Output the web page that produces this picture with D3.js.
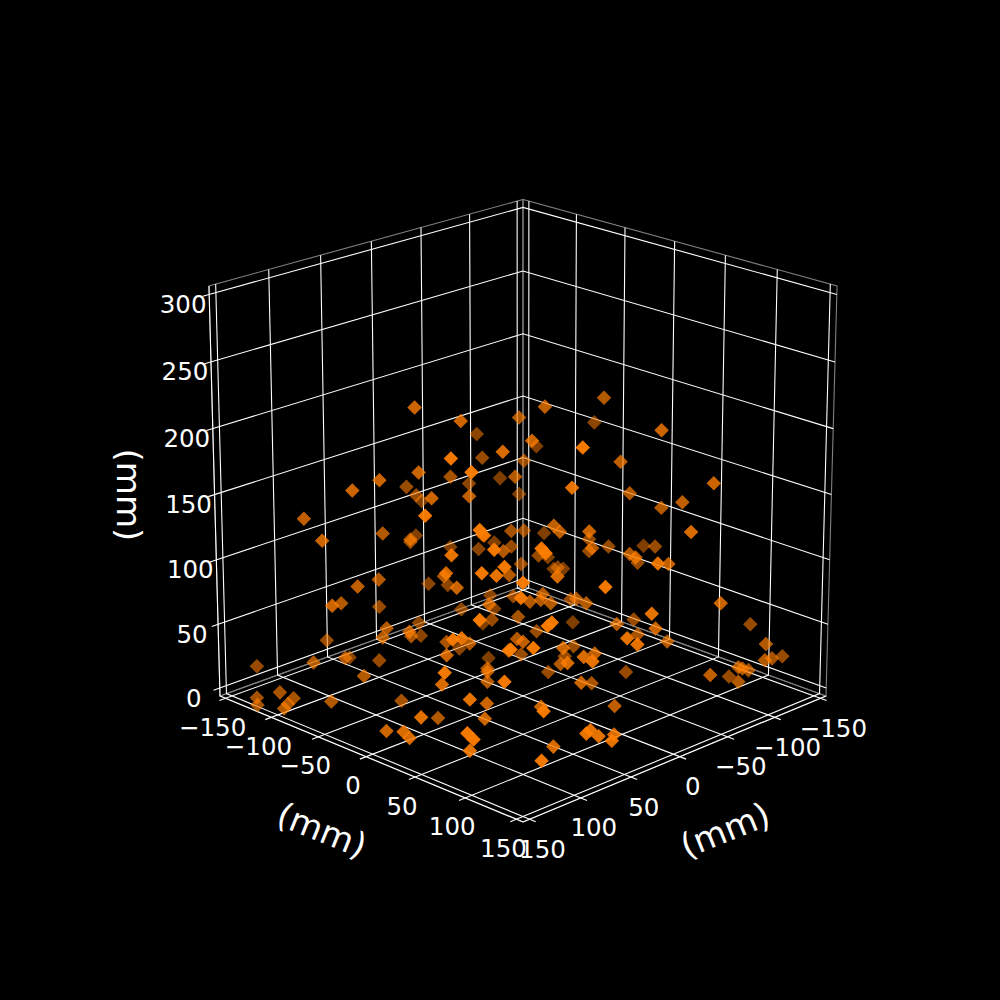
<!DOCTYPE html>
<html lang="en">
    <head>
        <meta charset="utf-8">
        <title>3D scatter</title>
        <script src="https://d3js.org/d3.v7.min.js"></script>
        <style type="text/css">
            html, body { margin: 0; padding: 0; background: #000; }
            text { font-family: "DejaVu Sans"; fill: #fff; }
        </style>
    </head>
    <body>
        <script type="text/javascript">

        // Data (mm)
        const xs = [73,52,-35,-9,112,53,-17,82,104,20,-22,-54,3,103,27,118,45,80,23,-9,-61,132,134,142,80,0,67,34,110,93,-4,-40,-2,-15,106,22,-17,-16,112,
            -56,-8,-98,-46,20,-79,46,-38,-37,42,-63,-52,-61,-66,-27,7,5,-67,-26,7,-58,-24,-56,-67,-117,-91,-42,-11,83,82,-29,-65,
            117,90,17,56,101,7,83,116,94,104,23,148,113,62,4,-13,54,-28,125,-19,6,29,94,98,99,68,30,95,137,120,71,71,51,141,121,55,12,99,-16,100,50,
            98,-19,-53,-71,47,-66,58,-79,13,-43,-9,101,17,9,11,7,-38,-7,-11,10,93,90,-66,-15,-23,-67,24,-9,40,-48,36,-46,30,43,115,104,-3,40,-31,-25,56,12,47,9,61,
            -47,-126,-96,-137,-112,-93,-77,-79,-98,-45,-106,-75,-54,-14,37,-16,123,8,61,109,76,73,70,45,64,77,118,
            135,114,145,154,158,139,157,158,135,84,151,122,51,52,127,87,91,84,150,142,149,147,150,148,136];
        const ys = [-35,-10,-83,-13,42,33,-59,-22,54,-54,-78,-78,-5,-40,-93,-52,-9,-11,-87,-115,-65,-88,39,-58,-62,-112,-47,-82,68,55,-46,-70,-14,-61,78,2,-29,-92,42,
            26,14,-24,92,29,-65,104,-37,61,90,127,56,99,74,139,38,42,-45,-25,73,10,46,12,21,9,45,66,101,101,104,-13,-39,
            -49,-56,-81,-24,25,-71,17,76,68,86,9,-42,-71,-86,-60,-47,20,-58,83,-61,-26,-79,-44,-44,-15,-46,-76,-107,-75,-60,-109,-77,-27,73,61,1,-54,23,-52,86,14,
            98,-21,-17,-29,81,-34,138,39,145,103,-19,99,24,29,29,35,11,47,53,5,117,118,-14,-1,72,47,150,123,142,69,148,100,24,43,103,114,-5,80,21,18,100,50,107,81,129,
            150,108,150,130,142,152,141,143,132,143,106,143,52,12,95,54,105,100,79,129,138,139,144,135,151,107,136,
            -139,-47,-103,-118,-113,-95,-81,-84,-59,-40,75,42,15,16,75,51,53,-2,50,6,31,35,96,100,84];
        const zs = [225,216,167,203,216,204,159,182,207,155,133,129,163,177,139,170,158,165,133,113,118,143,179,137,125,89,121,101,170,158,106,84,118,88,157,113,98,81,145,
            216,218,175,210,203,151,223,157,181,189,175,152,154,142,151,138,134,91,109,143,103,115,95,98,82,98,111,126,158,155,92,74,
            98,94,64,96,124,63,106,142,132,146,97,94,78,57,46,56,86,38,112,28,48,37,61,55,68,47,28,34,38,41,13,20,43,99,91,51,19,61,4,83,34,
            136,86,75,66,122,66,133,87,140,113,64,126,79,84,80,78,62,81,78,60,108,110,29,40,64,48,107,79,91,48,87,52,54,61,93,94,24,66,30,23,65,37,69,53,76,
            95,45,50,23,32,39,35,34,24,39,9,25,12,12,43,15,72,18,27,53,29,31,27,18,24,10,21,
            16,29,9,3,0,5,10,6,12,3,78,51,32,25,51,29,19,1,37,11,20,16,39,35,18];

        const xTicks = [-150,-100,-50,0,50,100,150];
        const yTicks = [-150,-100,-50,0,50,100,150];
        const zTicks = [0,50,100,150,200,250,300];

        // Constants
        const w = 1000;
        const h = 1000;
        const lim = 156.25;
        const zLo = -6.25;
        const zHi = 306.25;
        const half = 0.524;
        const dist = 10;
        const focal = 4162;
        const cx = 523;
        const cy = 494.6;
        const elev = 20 * Math.PI / 180;
        const sinE = Math.sin(elev);
        const cosE = Math.cos(elev);

        const xWorld = d3.scaleLinear().domain([-lim, lim]).range([-half, half]);
        const yWorld = d3.scaleLinear().domain([-lim, lim]).range([-half, half]);
        const zWorld = d3.scaleLinear().domain([zLo, zHi]).range([-half, half]);
        // depth shading, far marks fade
        const alphaScale = d3.scaleLinear().domain([-0.65, 0.5]).range([0.3, 1]).clamp(true);

        // camera at azim 45, elev 20
        function depth(x, y, z) {
            const b = (xWorld(x) + yWorld(y)) / Math.SQRT2;
            return cosE * b + sinE * zWorld(z);
        }
        function project(x, y, z) {
            const a = (yWorld(y) - xWorld(x)) / Math.SQRT2;
            const b = (xWorld(x) + yWorld(y)) / Math.SQRT2;
            const v = -sinE * b + cosE * zWorld(z);
            const k = focal / (dist - depth(x, y, z));
            return [cx + a * k, cy - v * k];
        }

        const svg = d3.select("body")
                      .append("svg")
                      .attr("width", w)
                      .attr("height", h)
                      .style("display", "block");

        const line3d = d3.line();
        function path3d(pts, color, width) {
            svg.append("path")
               .attr("d", line3d(pts.map(p => project(p[0], p[1], p[2]))))
               .attr("fill", "none")
               .attr("stroke", color)
               .attr("stroke-width", width);
        }

        // Panes
        const paneColor = "#808080";
        path3d([[-lim,-lim,zLo],[-lim,lim,zLo],[-lim,lim,zHi],[-lim,-lim,zHi],[-lim,-lim,zLo]], paneColor, 1.1);
        path3d([[-lim,-lim,zLo],[lim,-lim,zLo],[lim,-lim,zHi],[-lim,-lim,zHi],[-lim,-lim,zLo]], paneColor, 1.1);
        path3d([[-lim,-lim,zLo],[lim,-lim,zLo],[lim,lim,zLo],[-lim,lim,zLo],[-lim,-lim,zLo]], paneColor, 1.1);

        // Grid
        const tickOut = 6;
        xTicks.forEach(t => {
            path3d([[t,lim+tickOut,zLo],[t,-lim,zLo],[t,-lim,zHi]], "#fff", 1.1);
        });
        yTicks.forEach(t => {
            path3d([[lim+tickOut,t,zLo],[-lim,t,zLo],[-lim,t,zHi]], "#fff", 1.1);
        });
        zTicks.forEach(t => {
            path3d([[lim+tickOut,-lim,t],[-lim,-lim,t],[-lim,lim,t]], "#fff", 1.1);
        });

        // Axis lines
        path3d([[-lim,lim,zLo],[lim,lim,zLo]], "#fff", 1.1);
        path3d([[lim,-lim,zLo],[lim,lim,zLo]], "#fff", 1.1);
        path3d([[lim,-lim,zLo],[lim,-lim,zHi]], "#fff", 1.1);

        // Tick labels
        function tickLabels(ticks, pos, dx, dy) {
            ticks.forEach(t => {
                const p = pos(t);
                svg.append("text")
                   .attr("x", p[0] + dx)
                   .attr("y", p[1] + dy)
                   .attr("text-anchor", "middle")
                   .attr("dominant-baseline", "central")
                   .attr("font-size", "24.5px")
                   .text(String(t).replace("-", "\u2212"));
            });
        }
        tickLabels(xTicks, t => project(t, lim, zLo), 13, 30);
        tickLabels(yTicks, t => project(lim, t, zLo), -13, 29);
        tickLabels(zTicks, t => project(lim, -lim, t), -26, 10);

        // Axis labels
        function axisLabel(x, y, rot) {
            svg.append("text")
               .attr("transform", "translate(" + x + "," + y + ") rotate(" + rot + ")")
               .attr("text-anchor", "middle")
               .attr("dominant-baseline", "central")
               .attr("font-size", "34px")
               .text("(mm)");
        }
        axisLabel(322, 830, 22);
        axisLabel(725, 830, -22);
        axisLabel(129, 495, 90);

        // Points, far ones first
        const points = d3.range(xs.length)
                         .map(i => ({x: xs[i], y: ys[i], z: zs[i], d: depth(xs[i], ys[i], zs[i])}))
                         .sort((a, b) => a.d - b.d);

        svg.selectAll(".pt")
           .data(points)
           .enter()
           .append("path")
           .attr("class", "pt")
           .attr("d", d3.symbol().type(d3.symbolSquare).size(86))
           .attr("transform", d => {
               const p = project(d.x, d.y, d.z);
               return "translate(" + p[0] + "," + p[1] + ") rotate(45)";
           })
           .attr("fill", "#ff7f00")
           .attr("stroke", "#ff7f00")
           .attr("stroke-width", 1)
           .attr("opacity", d => alphaScale(d.d));
        </script>
    </body>
</html>
